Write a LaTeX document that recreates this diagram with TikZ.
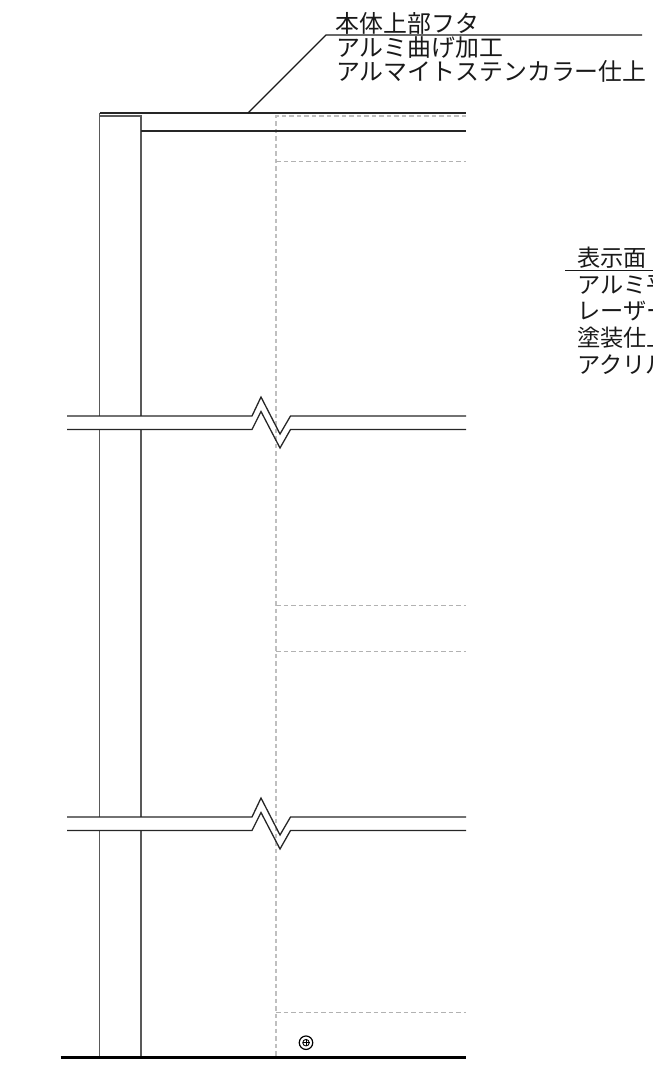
\documentclass[tikz,border=0pt]{standalone}
\usepackage{fontspec}
\newfontfamily\jp{Noto Sans CJK JP}
\tikzset{
 wall/.style={draw=black!65,line width=1.3pt},
 beam/.style={draw=black!85,line width=1.3pt},
 hid/.style={draw=black!25,line width=1.2pt,dash pattern=on 4.5pt off 3pt},
 hidthin/.style={draw=black!30,line width=0.8pt,dash pattern=on 4.5pt off 3pt},
 labtop/.style={font=\jp\fontsize{23.9}{23.9}\selectfont,anchor=base west,inner sep=0pt,text=black!90},
 lablow/.style={font=\jp\fontsize{23.2}{23.2}\selectfont,anchor=base west,inner sep=0pt,text=black!90},
}
\begin{document}
\begin{tikzpicture}[x=1pt,y=-1pt]
\useasboundingbox (0,0) rectangle (653,1079);
\clip (0,0) rectangle (653,1079);
% hidden
\draw[hid] (466,116) -- (276,116) -- (276,1056);
\draw[hidthin] (276,161) -- (466,161);
\draw[hidthin] (276,605) -- (466,605);
\draw[hidthin] (276,651) -- (466,651);
\draw[hidthin] (276,1012) -- (466,1012);
% posts
\draw[wall] (99.5,1057) -- (99.5,830);
\draw[wall] (99.5,817) -- (99.5,430);
\draw[wall] (99.5,416) -- (99.5,113);
\draw[wall] (141,1057) -- (141,830);
\draw[wall] (141,817) -- (141,430);
\draw[wall] (141,416) -- (141,116) -- (99.5,116);
% top
\draw[beam] (99.5,113) -- (466,113);
\draw[beam] (141,131) -- (466,131);
% breaks
\foreach \y in {416,817}{
 \draw[beam] (67,\y) -- (252,\y) -- (261,\y-19) -- (280,\y+18) -- (290.5,\y) -- (466,\y);
 \draw[beam] (67,\y+13.5) -- (252,\y+13.5) -- (261,\y-4.5) -- (280,\y+32) -- (290.5,\y+13.5) -- (466,\y+13.5);
}
% floor
\draw[black,line width=2.4pt] (60.5,1057.3) -- (466,1057.3);
% leaders
\coordinate (a) at (248,113);
\coordinate (b) at (326,35);
\coordinate (c) at (642,35);
\draw[black!90,line width=1.1pt] (a) -- (b) -- (c);
\coordinate (d) at (565,270.7);
\coordinate (e) at (653,270.7);
\draw[black!90,line width=1.1pt] (d) -- (e);
% screw
\node[circle,draw=black,line width=1.2pt,minimum size=13.5pt,inner sep=0pt] (s) at (306,1042.7) {};
\node[circle,draw=black,line width=0.9pt,minimum size=6.5pt,inner sep=0pt] (s2) at (s) {};
\draw[black,line width=1pt] (s.center) +(0,-3.5) -- +(0,3.5) +(-3.5,0) -- +(3.5,0);
% text
\node[labtop] (t1) at (335.5,32) {本体上部フタ};
\node[labtop] (t2) at (336,56) {アルミ曲げ加工};
\node[labtop] (t3) at (336,80) {アルマイトステンカラー仕上};
\node[lablow] (u1) at (577,266) {表示面};
\node[lablow] (u2) at (577,293) {アルミ平};
\node[lablow] (u3) at (577,319) {レーザー};
\node[lablow] (u4) at (577,346) {塗装仕上};
\node[lablow] (u5) at (577,373) {アクリル};
\end{tikzpicture}
\end{document}
